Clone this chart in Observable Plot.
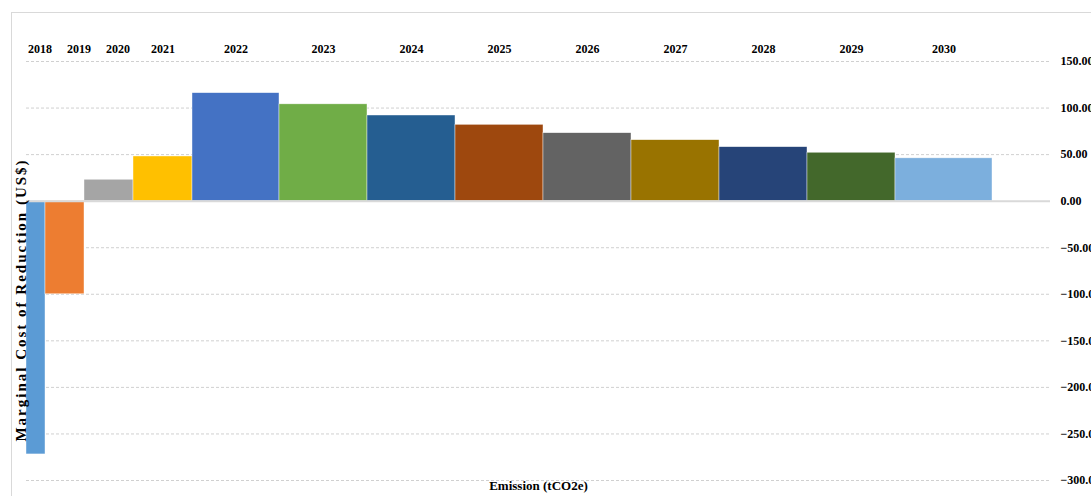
<!DOCTYPE html>
<html>
<head>
<meta charset="utf-8">
<script src="https://cdn.jsdelivr.net/npm/d3@7"></script>
<script src="https://cdn.jsdelivr.net/npm/@observablehq/plot@0.6"></script>
<style>
  html, body { margin: 0; padding: 0; background: #fff; overflow: hidden; }
  #wrap { position: relative; width: 1091px; height: 496px; }
  #border { position: absolute; left: 11px; top: 12px; width: 2000px; height: 2000px;
            border-left: 1px solid #d9d9d9; border-top: 1px solid #d9d9d9; box-sizing: border-box; }
  #chart { position: absolute; left: 0; top: 0; }
</style>
</head>
<body>
<div id="wrap"><div id="border"></div><div id="chart"></div></div>
<script>
// Data
const years = ["2018","2019","2020","2021","2022","2023","2024","2025","2026","2027","2028","2029","2030"];
const emission = [19, 39, 49, 59, 87, 88, 88, 88, 88, 88, 88, 88, 97]; // abatement quantity (tCO2e, relative)
const cost = [-272, -100, 23, 48, 116, 104, 92, 82, 73, 65.5, 58, 52, 46]; // US$ per tCO2e
const colors = ["#5B9BD5","#ED7D31","#A5A5A5","#FFC000","#4472C4","#70AD47","#255E91","#9E480E","#636363","#997300","#264478","#43682B","#7CAFDD"];
const yTicks = [150, 100, 50, 0, -50, -100, -150, -200, -250, -300];
const yTitle = "Marginal Cost of Reduction (US$)";
const xTitle = "Emission (tCO2e)";

let acc = 0;
let prevLabel = -Infinity;
const data = years.map((year, i) => {
  const x1 = acc;
  acc += emission[i];
  const mid = (x1 + acc) / 2;
  // keep narrow-bar labels from colliding
  const labelX = i === 0 ? mid + 4 : Math.max(mid, prevLabel + 39);
  prevLabel = labelX;
  return {year, x1, x2: acc, mid, labelX, cost: cost[i]};
});
const xMax = 1024;

const chart = Plot.plot({
  width: 1091,
  height: 496,
  marginLeft: 26,
  marginRight: 41,
  marginTop: 61,
  marginBottom: 16,
  style: {fontFamily: "'Liberation Serif', 'Times New Roman', serif", fontWeight: "bold", fontSize: "12px", background: "transparent", color: "#000"},
  x: {domain: [0, xMax], axis: null},
  y: {domain: [-300, 150], axis: null},
  color: {domain: years, range: colors},
  marks: [
    Plot.gridY(yTicks.filter(d => d !== 0), {stroke: "#d0d0d0", strokeOpacity: 1, strokeDasharray: "3,2"}),
    Plot.rect(data, {x1: "x1", x2: "x2", y1: 0, y2: "cost", fill: "year", stroke: "#ffffff", strokeWidth: 0.6, strokeOpacity: 0.7}),
    Plot.ruleY([0], {stroke: "#d9d9d9", strokeWidth: 2}),
    Plot.axisY(yTicks, {anchor: "right", label: null, tickSize: 0, tickPadding: 10, tickFormat: d3.format(".2f"), textAnchor: "start", fontSize: 12, fontWeight: "bold"}),
    Plot.text(data, {x: "labelX", y: 150, dy: -12, text: "year", fontSize: 12, fontWeight: "bold"}),
    Plot.text([yTitle], {frameAnchor: "left", textAnchor: "middle", rotate: -90, dx: -5, dy: 29, fontSize: 15, fontWeight: "bold"}),
    Plot.text([xTitle], {frameAnchor: "bottom", dy: 9, fontSize: 13, fontWeight: "bold"})
  ]
});
document.getElementById("chart").appendChild(chart);
// apply letter spacing to y title
d3.select(chart).selectAll("text").filter(function(){ return this.textContent === yTitle; }).style("letter-spacing", "2px");
</script>
</body>
</html>
